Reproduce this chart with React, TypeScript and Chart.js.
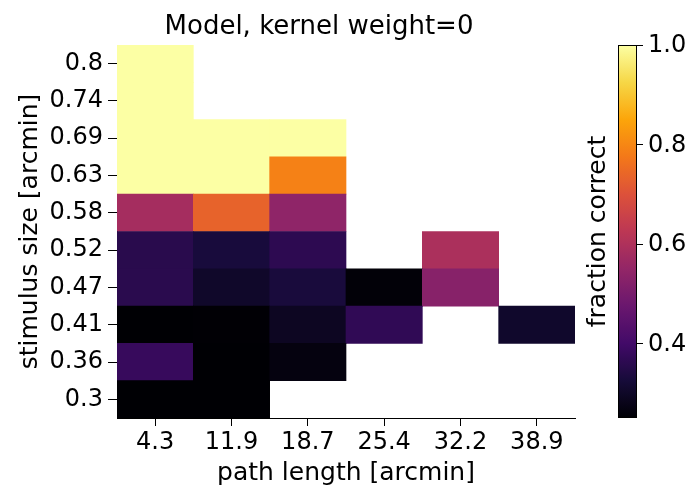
import React, { useEffect, useRef } from "react";
import { Chart, registerables } from "chart.js";

Chart.register(...registerables);

const xLabels = ["4.3", "11.9", "18.7", "25.4", "32.2", "38.9"];
const yLabels = ["0.3", "0.36", "0.41", "0.47", "0.52", "0.58", "0.63", "0.69", "0.74", "0.8"];

// fraction correct per row (bottom to top), columns follow xLabels; null = no data
const row030 = [0.25, 0.25, null, null, null, null];
const row036 = [0.381, 0.25, 0.266, null, null, null];
const row041 = [0.25, 0.252, 0.293, 0.37, null, 0.306];
const row047 = [0.359, 0.304, 0.33, 0.256, 0.528, null];
const row052 = [0.357, 0.329, 0.364, null, 0.594, null];
const row058 = [0.583, 0.734, 0.543, null, null, null];
const row063 = [1.0, 1.0, 0.79, null, null, null];
const row069 = [1.0, 1.0, 1.0, null, null, null];
const row074 = [1.0, null, null, null, null, null];
const row080 = [1.0, null, null, null, null, null];
const rows = [row030, row036, row041, row047, row052, row058, row063, row069, row074, row080];

const vMin = 0.25;
const vMax = 1.0;
const cbTicks = [0.4, 0.6, 0.8, 1.0];

const title = "Model, kernel weight=0";
const xTitle = "path length [arcmin]";
const yTitle = "stimulus size [arcmin]";
const cbTitle = "fraction correct";

const infernoStops = [
  "#000004", "#160b39", "#420a68", "#6a176e", "#932667", "#bc3754",
  "#dd513a", "#f37819", "#fca50a", "#f6d746", "#fcffa4",
];

function hexToRgb(h: string) {
  return [parseInt(h.slice(1, 3), 16), parseInt(h.slice(3, 5), 16), parseInt(h.slice(5, 7), 16)];
}

function inferno(t: number) {
  const tt = Math.max(0, Math.min(1, t)) * (infernoStops.length - 1);
  const i = Math.min(Math.floor(tt), infernoStops.length - 2);
  const f = tt - i;
  const a = hexToRgb(infernoStops[i]);
  const b = hexToRgb(infernoStops[i + 1]);
  const c = a.map((v, k) => Math.round(v + (b[k] - v) * f));
  return `rgb(${c[0]},${c[1]},${c[2]})`;
}

const colorOf = (v: number | null) => (v == null ? "rgba(0,0,0,0)" : inferno((v - vMin) / (vMax - vMin)));

const FONT = "'DejaVu Sans', sans-serif";

export default function App() {
  const ref = useRef<HTMLCanvasElement | null>(null);

  useEffect(() => {
    if (!ref.current) return;

    const datasets = rows.map((row, i) => ({
      label: yLabels[i],
      data: row.map((v) => (v == null ? null : [i - 0.5, i + 0.5])),
      backgroundColor: row.map((v) => colorOf(v)),
      borderWidth: 0,
      grouped: false,
      barPercentage: 1,
      categoryPercentage: 1,
    }));

    const overlay = {
      id: "overlay",
      afterDraw(chart: any) {
        const ctx = chart.ctx;
        const area = chart.chartArea;
        const midY = (area.top + area.bottom) / 2;
        ctx.save();
        ctx.fillStyle = "#000";
        // title
        ctx.font = `26px ${FONT}`;
        ctx.textAlign = "center";
        ctx.textBaseline = "alphabetic";
        ctx.fillText(title, 319, 34);
        // x title
        ctx.font = `25px ${FONT}`;
        ctx.fillText(xTitle, (area.left + area.right) / 2, 480);
        // y title
        ctx.save();
        ctx.translate(37, midY);
        ctx.rotate(-Math.PI / 2);
        ctx.fillText(yTitle, 0, 0);
        ctx.restore();
        // colorbar
        const cbL = 618, cbR = 637;
        const top = area.top, bottom = area.bottom;
        const grad = ctx.createLinearGradient(0, bottom, 0, top);
        for (let k = 0; k <= 50; k++) grad.addColorStop(k / 50, inferno(k / 50));
        ctx.fillStyle = grad;
        ctx.fillRect(cbL, top, cbR - cbL, bottom - top);
        ctx.strokeStyle = "#000";
        ctx.lineWidth = 1;
        ctx.strokeRect(cbL + 0.5, top + 0.5, cbR - cbL - 1, bottom - top - 1);
        ctx.fillStyle = "#000";
        ctx.textAlign = "left";
        ctx.textBaseline = "middle";
        ctx.font = `24px ${FONT}`;
        cbTicks.forEach((v) => {
          const y = bottom - ((v - vMin) / (vMax - vMin)) * (bottom - top);
          ctx.beginPath();
          ctx.moveTo(cbR, Math.round(y) + 0.5);
          ctx.lineTo(cbR + 6, Math.round(y) + 0.5);
          ctx.stroke();
          ctx.fillText(v.toFixed(1), cbR + 11, y + 1);
        });
        ctx.save();
        ctx.translate(605, midY);
        ctx.rotate(-Math.PI / 2);
        ctx.textAlign = "center";
        ctx.textBaseline = "alphabetic";
        ctx.font = `25px ${FONT}`;
        ctx.fillText(cbTitle, 0, 0);
        ctx.restore();
        ctx.restore();
      },
    };

    const chart = new Chart(ref.current, {
      type: "bar",
      data: { labels: xLabels, datasets: datasets as any },
      options: {
        animation: false,
        responsive: false,
        layout: { padding: { top: 45, right: 117, bottom: 0, left: 0 } },
        plugins: { legend: { display: false }, tooltip: { enabled: false }, title: { display: false } },
        scales: {
          x: {
            type: "category",
            offset: true,
            grid: { display: true, drawOnChartArea: false, drawTicks: true, tickLength: 8, tickColor: "#000", offset: false },
            border: { display: true, color: "#000", width: 1 },
            ticks: { color: "#000", font: { family: FONT, size: 24 }, padding: 2, maxRotation: 0, autoSkip: false },
            afterFit(scale: any) { scale.height = 73; },
          },
          y: {
            type: "linear",
            min: -0.5,
            max: 9.5,
            afterBuildTicks(scale: any) {
              scale.ticks = yLabels.map((_, i) => ({ value: i }));
            },
            grid: { display: true, drawOnChartArea: false, drawTicks: true, tickLength: 9, tickColor: "#000" },
            border: { display: true, color: "#000", width: 1 },
            ticks: {
              color: "#000",
              font: { family: FONT, size: 24 },
              padding: 5,
              autoSkip: false,
              callback: (v: any) => yLabels[Math.round(Number(v))] ?? "",
            },
            afterFit(scale: any) { scale.width = 117; },
          },
        },
      },
      plugins: [overlay],
    });
    return () => chart.destroy();
  }, []);

  return (
    <div style={{ position: "fixed", left: 0, top: 0, width: 692, height: 491, background: "#fff" }}>
      <canvas ref={ref} width={692} height={491} />
    </div>
  );
}
